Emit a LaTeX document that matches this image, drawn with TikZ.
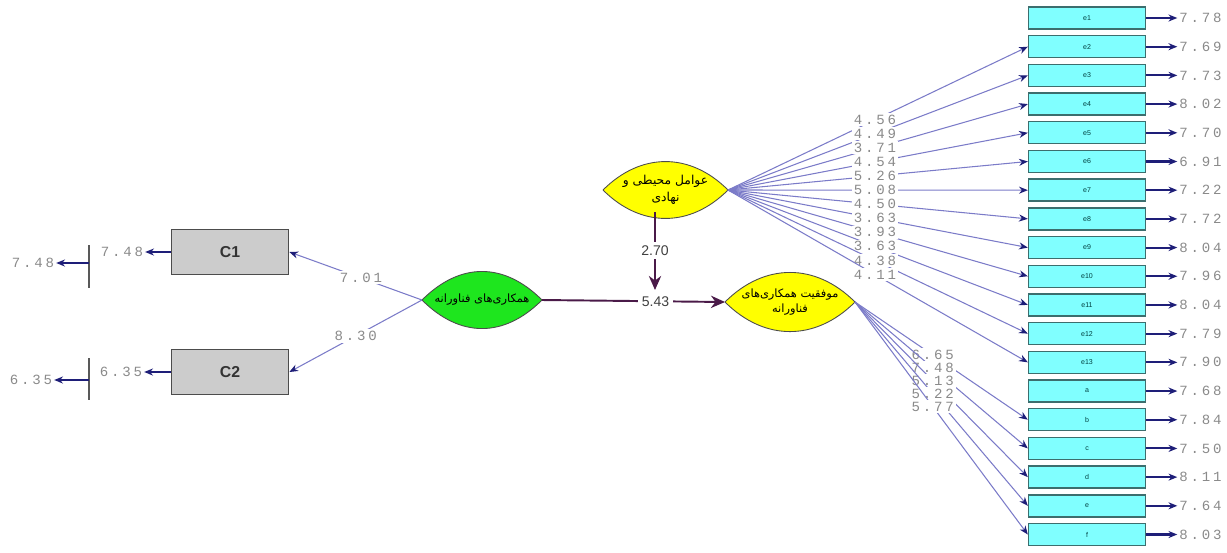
\documentclass[tikz,border=0pt]{standalone}
\usepackage{fontspec}
\usetikzlibrary{arrows.meta, positioning}
\setmainfont{Liberation Sans}
\newfontfamily\numfont[LetterSpace=20]{Liberation Mono}
\newfontfamily\arabicfont[Script=Arabic]{DejaVu Sans}
\TeXXeTstate=1
\definecolor{boxcyan}{HTML}{80FFFF}
\definecolor{boxedge}{HTML}{3C6E6E}
\definecolor{pathblue}{HTML}{7B7BC8}
\definecolor{tipblue}{HTML}{1E1E78}
\definecolor{effectcol}{HTML}{4A1A48}
\definecolor{numgray}{HTML}{8A8A8A}
\definecolor{lensyellow}{HTML}{FFFF00}
\definecolor{lensgreen}{HTML}{1EE61E}
\tikzset{>=stealth}
\tikzstyle{indicator} = [rectangle, text centered, minimum width = 2.34cm, minimum height = 0.44cm, draw = boxedge, fill = boxcyan, line width = 0.8pt, text = teal!50!black, font = \fontsize{4}{4}\selectfont]
\tikzstyle{observed} = [rectangle, text centered, minimum width = 2.34cm, minimum height = 0.9cm, draw = gray!60!black, fill = gray!40, line width = 1pt, text = black!80, font = \bfseries\small]
\tikzstyle{latent} = [align = center, inner sep = 0pt, font = \arabicfont\fontsize{7}{9.5}\selectfont]
\tikzstyle{lens} = [draw = gray!60!black, line width = 0.5pt]
\tikzstyle{numval} = [inner sep = 1pt, text = numgray, font = \numfont\fontsize{8}{8}\selectfont]
\tikzstyle{lbl} = [numval, fill = white]
\tikzstyle{errarrow} = [-{Stealth[length = 5pt, width = 4pt]}, draw = tipblue, line width = 1.2pt]
\tikzstyle{loading} = [-{Stealth[tipblue, length = 5pt, width = 4pt]}, draw = pathblue, line width = 0.6pt]
\tikzstyle{effect} = [-{Stealth[length = 8pt, width = 7pt]}, draw = effectcol, line width = 1.1pt]
\tikzstyle{effectlbl} = [fill = white, inner sep = 2pt, text = black!75, font = \fontsize{8}{8}\selectfont]

\begin{document}
\begin{tikzpicture}[x = 0.02cm, y = -0.02cm, node distance = 0.574cm]
    \useasboundingbox (0,0) rectangle (1227,552);
    % indicator boxes
    \node (e1) [indicator] at (1087,18) {e1};
    \node (e2) [indicator, below of = e1] {e2};
    \node (e3) [indicator, below of = e2] {e3};
    \node (e4) [indicator, below of = e3] {e4};
    \node (e5) [indicator, below of = e4] {e5};
    \node (e6) [indicator, below of = e5] {e6};
    \node (e7) [indicator, below of = e6] {e7};
    \node (e8) [indicator, below of = e7] {e8};
    \node (e9) [indicator, below of = e8] {e9};
    \node (e10) [indicator, below of = e9] {e10};
    \node (e11) [indicator, below of = e10] {e11};
    \node (e12) [indicator, below of = e11] {e12};
    \node (e13) [indicator, below of = e12] {e13};
    \node (a) [indicator, below of = e13] {a};
    \node (b) [indicator, below of = a] {b};
    \node (c) [indicator, below of = b] {c};
    \node (d) [indicator, below of = c] {d};
    \node (e) [indicator, below of = d] {e};
    \node (f) [indicator, below of = e] {f};
    % error variances
    \node (v1) [numval, right of = e1, node distance = 2.27cm] {7.78};
    \node (v2) [numval, right of = e2, node distance = 2.27cm] {7.69};
    \node (v3) [numval, right of = e3, node distance = 2.27cm] {7.73};
    \node (v4) [numval, right of = e4, node distance = 2.27cm] {8.02};
    \node (v5) [numval, right of = e5, node distance = 2.27cm] {7.70};
    \node (v6) [numval, right of = e6, node distance = 2.27cm] {6.91};
    \node (v7) [numval, right of = e7, node distance = 2.27cm] {7.22};
    \node (v8) [numval, right of = e8, node distance = 2.27cm] {7.72};
    \node (v9) [numval, right of = e9, node distance = 2.27cm] {8.04};
    \node (v10) [numval, right of = e10, node distance = 2.27cm] {7.96};
    \node (v11) [numval, right of = e11, node distance = 2.27cm] {8.04};
    \node (v12) [numval, right of = e12, node distance = 2.27cm] {7.79};
    \node (v13) [numval, right of = e13, node distance = 2.27cm] {7.90};
    \node (va) [numval, right of = a, node distance = 2.27cm] {7.68};
    \node (vb) [numval, right of = b, node distance = 2.27cm] {7.84};
    \node (vc) [numval, right of = c, node distance = 2.27cm] {7.50};
    \node (vd) [numval, right of = d, node distance = 2.27cm] {8.11};
    \node (ve) [numval, right of = e, node distance = 2.27cm] {7.64};
    \node (vf) [numval, right of = f, node distance = 2.27cm] {8.03};
    \draw [errarrow] (e1) -- (v1);
    \draw [errarrow] (e2) -- (v2);
    \draw [errarrow] (e3) -- (v3);
    \draw [errarrow] (e4) -- (v4);
    \draw [errarrow] (e5) -- (v5);
    \draw [errarrow] (e6) -- (v6);
    \draw [errarrow] (e7) -- (v7);
    \draw [errarrow] (e8) -- (v8);
    \draw [errarrow] (e9) -- (v9);
    \draw [errarrow] (e10) -- (v10);
    \draw [errarrow] (e11) -- (v11);
    \draw [errarrow] (e12) -- (v12);
    \draw [errarrow] (e13) -- (v13);
    \draw [errarrow] (a) -- (va);
    \draw [errarrow] (b) -- (vb);
    \draw [errarrow] (c) -- (vc);
    \draw [errarrow] (d) -- (vd);
    \draw [errarrow] (e) -- (ve);
    \draw [errarrow] (f) -- (vf);

    % latent variables
    \coordinate (envL) at (603,190);
    \coordinate (envR) at (728,190);
    \coordinate (coopL) at (422,300);
    \coordinate (coopR) at (542,300);
    \coordinate (succL) at (725,302);
    \coordinate (succR) at (855,302);
    \filldraw [lens, fill = lensyellow] (envL) to [bend left = 45, looseness = 1.1] (envR) to [bend left = 45, looseness = 1.1] (envL);
    \filldraw [lens, fill = lensgreen] (coopL) to [bend left = 45, looseness = 1.15] (coopR) to [bend left = 45, looseness = 1.15] (coopL);
    \filldraw [lens, fill = lensyellow] (succL) to [bend left = 45, looseness = 1.1] (succR) to [bend left = 45, looseness = 1.1] (succL);
    \node (env) [latent] at (665.5,190) {\beginR عوامل محیطی و\endR\\\beginR نهادی\endR};
    \node (coop) [latent, font = \arabicfont\fontsize{6.5}{8}\selectfont] at (482,300) {\beginR همکاری‌های فناورانه\endR};
    \node (succ) [latent, font = \arabicfont\fontsize{6.5}{9}\selectfont] at (790,302) {\beginR موفقیت همکاری‌های\endR\\\beginR فناورانه\endR};

    % loadings
    \draw [loading] (envR) -- (e2.west) node [lbl, pos = 0.49] {4.56};
    \draw [loading] (envR) -- (e3.west) node [lbl, pos = 0.49] {4.49};
    \draw [loading] (envR) -- (e4.west) node [lbl, pos = 0.49] {3.71};
    \draw [loading] (envR) -- (e5.west) node [lbl, pos = 0.49] {4.54};
    \draw [loading] (envR) -- (e6.west) node [lbl, pos = 0.49] {5.26};
    \draw [loading] (envR) -- (e7.west) node [lbl, pos = 0.49] {5.08};
    \draw [loading] (envR) -- (e8.west) node [lbl, pos = 0.49] {4.50};
    \draw [loading] (envR) -- (e9.west) node [lbl, pos = 0.49] {3.63};
    \draw [loading] (envR) -- (e10.west) node [lbl, pos = 0.49] {3.93};
    \draw [loading] (envR) -- (e11.west) node [lbl, pos = 0.49] {3.63};
    \draw [loading] (envR) -- (e12.west) node [lbl, pos = 0.49] {4.38};
    \draw [loading] (envR) -- (e13.west) node [lbl, pos = 0.49] {4.11};
    \draw [loading] (succR) -- (b.west) node [lbl, pos = 0.45] {6.65};
    \draw [loading] (succR) -- (c.west) node [lbl, pos = 0.45] {7.48};
    \draw [loading] (succR) -- (d.west) node [lbl, pos = 0.45] {5.13};
    \draw [loading] (succR) -- (e.west) node [lbl, pos = 0.45] {5.22};
    \draw [loading] (succR) -- (f.west) node [lbl, pos = 0.45] {5.77};

    % observed variables
    \node (c1) [observed] at (230,252) {C1};
    \node (c2) [observed] at (230,372) {C2};
    \draw [loading] (coopL) -- (c1.east) node [lbl, pos = 0.46] {7.01};
    \draw [loading] (coopL) -- (c2.east) node [lbl, pos = 0.5] {8.30};
    \node (c1v) [numval] at (122,252) {7.48};
    \node (c2v) [numval] at (121,372) {6.35};
    \draw [errarrow] (c1) -- (c1v);
    \draw [errarrow] (c2) -- (c2v);
    \coordinate (bar1) at (89,263);
    \coordinate (bar2) at (89,380);
    \draw [gray!70!black, line width = 0.6pt] (bar1) ++(0,-18) -- ++(0,43);
    \draw [gray!70!black, line width = 0.6pt] (bar2) ++(0,-22) -- ++(0,42);
    \node (c1w) [numval] at (33,263) {7.48};
    \node (c2w) [numval] at (31,380) {6.35};
    \draw [errarrow] (bar1) -- (c1w);
    \draw [errarrow] (bar2) -- (c2w);

    % structural paths
    \coordinate (modtop) at (655,212);
    \coordinate (modend) at (655,290);
    \draw [effect] (coopR) -- (succL) node [effectlbl, pos = 0.62] {5.43};
    \draw [effect] (modtop) -- (modend) node [effectlbl, pos = 0.49] {2.70};
\end{tikzpicture}
\end{document}
